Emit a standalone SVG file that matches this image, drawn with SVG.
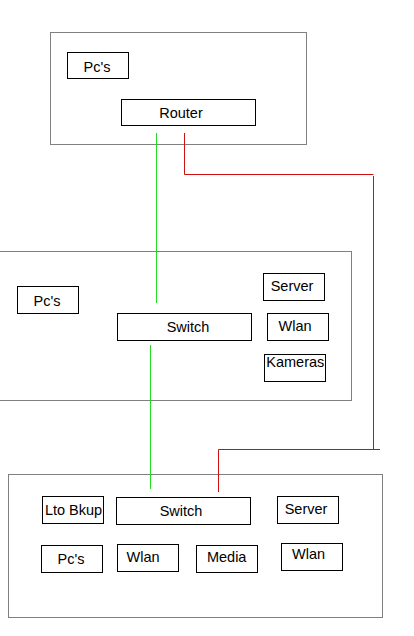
<svg xmlns="http://www.w3.org/2000/svg" width="414" height="636" viewBox="0 0 414 636">
<style>
.c{fill:#fff;stroke:#808080;stroke-width:1}
.n{fill:#fff;stroke:#000;stroke-width:1}
.t{font-family:"Liberation Sans",Arial,sans-serif;font-size:14.5px;fill:#000;text-anchor:middle}
.g{stroke:#22dd22;stroke-width:1;fill:none}
.r{stroke:#cc1111;stroke-width:1;fill:none}
</style>
<rect width="414" height="636" fill="#fff"/>
<g id="containers">
<rect class="c" x="50.5" y="32.5" width="256" height="112"/>
<rect class="c" x="-1" y="251.5" width="352.5" height="149"/>
<rect class="c" x="8.5" y="474.5" width="374" height="143"/>
</g>
<g id="top-pcs"><rect class="n" x="67.5" y="52.5" width="61" height="26"/><text class="t" x="97" y="71.5">Pc's</text></g>
<g id="router"><rect class="n" x="121.5" y="99.5" width="134" height="26"/><text class="t" x="181" y="117.5">Router</text></g>
<g id="mid-pcs"><rect class="n" x="17.5" y="286.5" width="61" height="27"/><text class="t" x="47" y="305.5">Pc's</text></g>
<g id="mid-switch"><rect class="n" x="117.5" y="313.5" width="134" height="27"/><text class="t" x="188" y="331.5">Switch</text></g>
<g id="mid-server"><rect class="n" x="263.5" y="273.5" width="61" height="27"/><text class="t" x="292" y="291">Server</text></g>
<g id="mid-wlan"><rect class="n" x="267.5" y="313.5" width="61" height="27"/><text class="t" x="295" y="331">Wlan</text></g>
<g id="mid-kameras"><rect class="n" x="264.5" y="354.5" width="61" height="27"/><text class="t" x="295.3" y="366.7">Kameras</text></g>
<g id="bot-lto"><rect class="n" x="42.5" y="496.5" width="61" height="27"/><text class="t" x="73.5" y="515">Lto Bkup</text></g>
<g id="bot-switch"><rect class="n" x="116.5" y="497.5" width="134" height="27"/><text class="t" x="181" y="515.7">Switch</text></g>
<g id="bot-server"><rect class="n" x="277.5" y="496.5" width="61" height="27"/><text class="t" x="306" y="514">Server</text></g>
<g id="bot-pcs"><rect class="n" x="41.5" y="545.5" width="61" height="27"/><text class="t" x="71" y="564.3">Pc's</text></g>
<g id="bot-wlan1"><rect class="n" x="117.5" y="544.5" width="61" height="27"/><text class="t" x="143" y="561.7">Wlan</text></g>
<g id="bot-media"><rect class="n" x="196.5" y="545.5" width="61" height="27"/><text class="t" x="226.7" y="562">Media</text></g>
<g id="bot-wlan2"><rect class="n" x="281.5" y="543.5" width="61" height="27"/><text class="t" x="308.5" y="558.7">Wlan</text></g>
<g id="connectors">
<line class="g" x1="156.5" y1="133" x2="156.5" y2="303"/>
<line class="g" x1="150.5" y1="345" x2="150.5" y2="489"/>
<polyline class="r" points="184.5,133 184.5,174.5 373.5,174.5"/>
<line class="r" x1="373.5" y1="176" x2="373.5" y2="449"/>
<polyline class="r" points="218.5,492 218.5,449.5 380,449.5"/>
</g>
</svg>
